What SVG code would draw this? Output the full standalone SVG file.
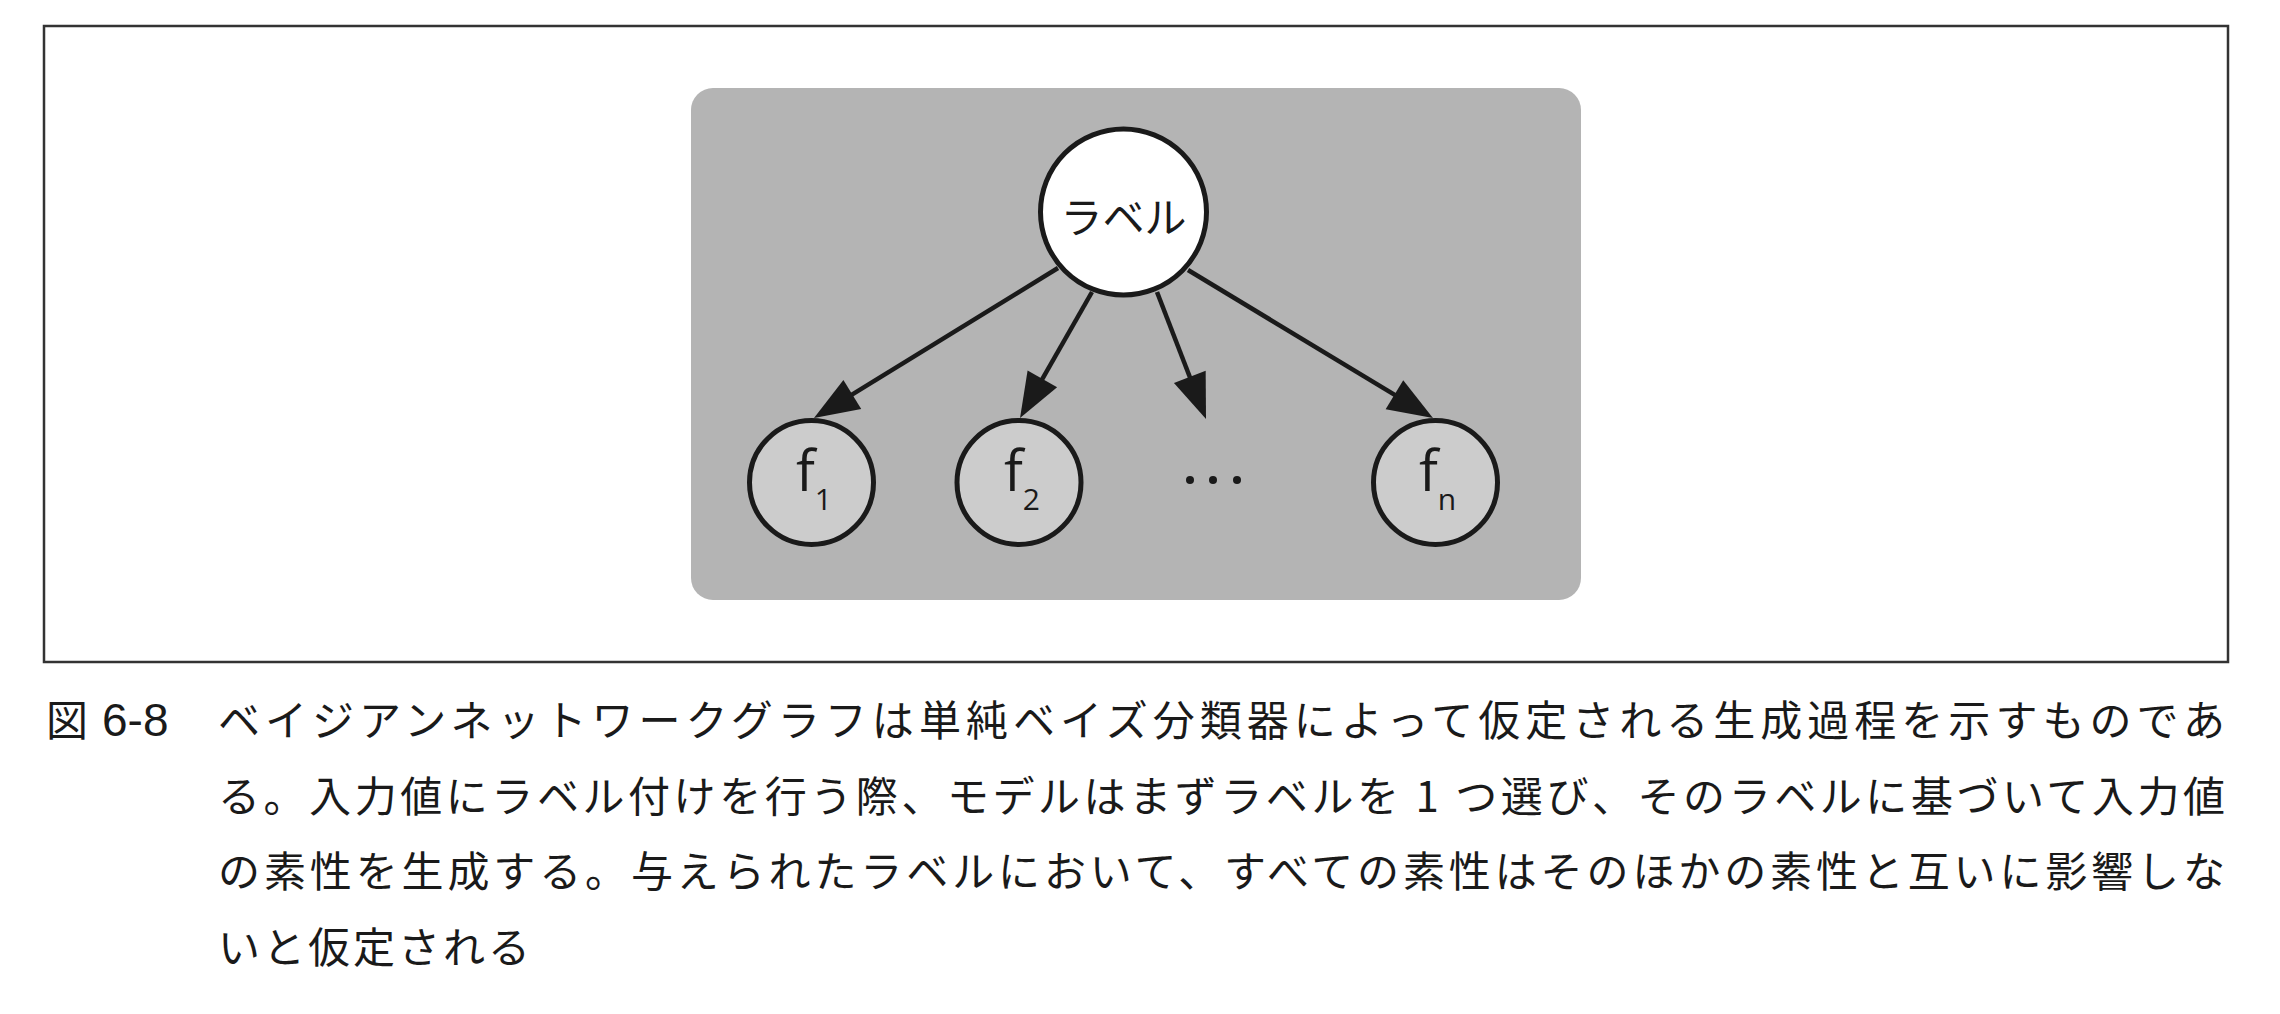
<svg xmlns="http://www.w3.org/2000/svg" width="2280" height="1014" viewBox="0 0 2280 1014">
<style>
.frame{fill:#ffffff;stroke:#333333;stroke-width:2.5}
.panel{fill:#b4b4b4}
.node{stroke:#1a1a1a;stroke-width:5}
.root{fill:#ffffff}
.feat{fill:#cccccc}
.edge{stroke:#1a1a1a;stroke-width:4.5;fill:none;marker-end:url(#arrow)}
.lbl{font-family:"Noto Sans CJK JP","Noto Sans",sans-serif;font-size:42px;fill:#1a1a1a;text-anchor:middle}
.f{font-family:"Open Sans","Noto Sans",sans-serif;font-size:56px;fill:#1a1a1a}
.sub{font-size:30px}
.cap{font-family:"Noto Sans CJK JP","Noto Sans",sans-serif;font-size:42px;fill:#1a1a1a}
.num{font-family:"Liberation Sans",Arial,sans-serif;font-size:46px;fill:#1a1a1a}
</style>
<defs>
<marker id="arrow" markerUnits="userSpaceOnUse" markerWidth="46" markerHeight="36" refX="10" refY="17" orient="auto" overflow="visible">
<path d="M0,0 L45,17 L0,34 z" fill="#1a1a1a"/>
</marker>
</defs>
<rect x="0" y="0" width="2280" height="1014" fill="#ffffff"/>
<rect class="frame" x="44" y="26" width="2184" height="636"/>
<rect class="panel" x="691" y="88" width="890" height="512" rx="22" ry="22"/>
<g id="connectors">
<line class="edge" x1="1058" y1="268" x2="843.8" y2="399.7"/>
<line class="edge" x1="1092" y1="292" x2="1037.4" y2="387.6"/>
<line class="edge" x1="1157" y1="292" x2="1193.4" y2="386.3"/>
<line class="edge" x1="1188" y1="270" x2="1403" y2="399.9"/>
</g>
<g id="node-label">
<circle class="node root" cx="1123.5" cy="212" r="83"/>
<text class="lbl" x="1123.5" y="233">ラベル</text>
</g>
<g id="node-f1">
<circle class="node feat" cx="811.5" cy="482.5" r="62"/>
<text class="f" x="796" y="491">f<tspan class="sub" dy="19">1</tspan></text>
</g>
<g id="node-f2">
<circle class="node feat" cx="1019" cy="482.5" r="62"/>
<text class="f" x="1004" y="491">f<tspan class="sub" dy="19">2</tspan></text>
</g>
<g id="node-dots">
<circle cx="1190" cy="480" r="4" fill="#1a1a1a"/>
<circle cx="1213" cy="480" r="4" fill="#1a1a1a"/>
<circle cx="1237" cy="480" r="4" fill="#1a1a1a"/>
</g>
<g id="node-fn">
<circle class="node feat" cx="1435.5" cy="482.5" r="62"/>
<text class="f" x="1419" y="491">f<tspan class="sub" dy="19">n</tspan></text>
</g>
<g id="caption">
<text class="cap" x="46" y="736">図</text>
<text class="num" x="102" y="736">6-8</text>
<text class="cap" x="218" y="736" textLength="2007" lengthAdjust="spacing">ベイジアンネットワークグラフは単純ベイズ分類器によって仮定される生成過程を示すものであ</text>
<text class="cap" x="218" y="812" textLength="2007" lengthAdjust="spacing">る。入力値にラベル付けを行う際、モデルはまずラベルを 1 つ選び、そのラベルに基づいて入力値</text>
<text class="cap" x="218" y="887" textLength="2007" lengthAdjust="spacing">の素性を生成する。与えられたラベルにおいて、すべての素性はそのほかの素性と互いに影響しな</text>
<text class="cap" x="218" y="963" letter-spacing="3">いと仮定される</text>
</g>
</svg>
